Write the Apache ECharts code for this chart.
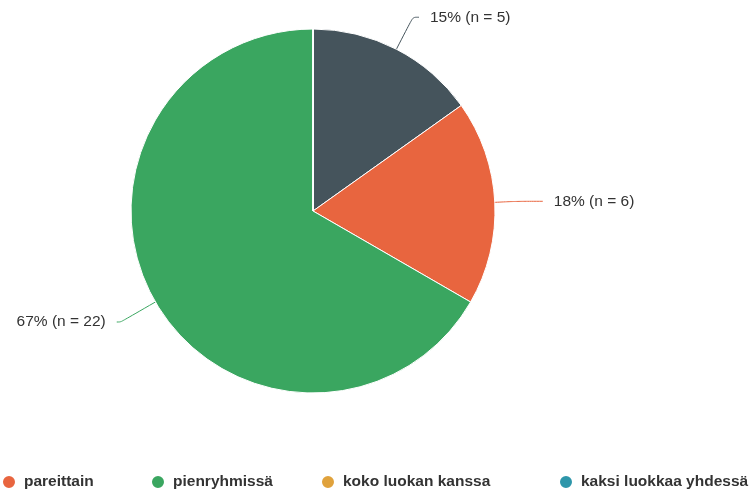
<!DOCTYPE html>
<html><head><meta charset="utf-8">
<script src="https://cdn.jsdelivr.net/npm/echarts@6/dist/echarts.min.js"></script>
<style>html,body{margin:0;padding:0;background:#fff}#c{width:754px;height:497px}</style>
</head><body><div id="c"></div>
<script>
const categories = ["muulla tavoin", "pareittain", "pienryhmissä", "koko luokan kanssa", "kaksi luokkaa yhdessä"];
const counts = [5, 6, 22, 0, 0];
const colors = ["#45545C", "#E8653F", "#3AA660", "#E0A23C", "#2E96AA"];
const legendNames = ["pareittain", "pienryhmissä", "koko luokan kanssa", "kaksi luokkaa yhdessä"];
const legendLeft = [-4, 145, 315, 553];
const lineLen = [[36, 6], [22, 26], [40, 4], [0, 0], [0, 0]];

const chart = echarts.init(document.getElementById('c'));
const data = categories.map((n, i) => {
  const d = { name: n, value: counts[i], itemStyle: { color: colors[i] } };
  if (counts[i] === 0) {
    d.label = { show: false }; d.labelLine = { show: false };
  } else {
    d.labelLine = { length: lineLen[i][0], length2: lineLen[i][1] };
  }
  return d;
});
chart.setOption({
  animation: false,
  textStyle: { fontFamily: 'Liberation Sans, Arial, sans-serif' },
  legend: legendNames.map((n, i) => ({
    data: [n], left: legendLeft[i], top: 469, icon: 'circle', itemWidth: 14, itemHeight: 14, itemGap: 6,
    textStyle: { fontSize: 15.5, fontWeight: 'bold', color: '#333', padding: [0, 0, 0, 3], fontFamily: 'Liberation Sans, Arial, sans-serif' },
    selectedMode: false
  })),
  series: [{
    type: 'pie',
    center: [313, 211],
    radius: [0, 182],
    startAngle: 90,
    clockwise: true,
    percentPrecision: 0,
    avoidLabelOverlap: false,
    itemStyle: { borderColor: '#fff', borderWidth: 1 },
    label: { formatter: '{d}% (n = {c})', fontSize: 15.5, color: '#333', distanceToLabelLine: 11 },
    labelLine: { smooth: 0.3, lineStyle: { width: 1 } },
    emphasis: { disabled: true },
    data: data
  }]
});
</script></body></html>
